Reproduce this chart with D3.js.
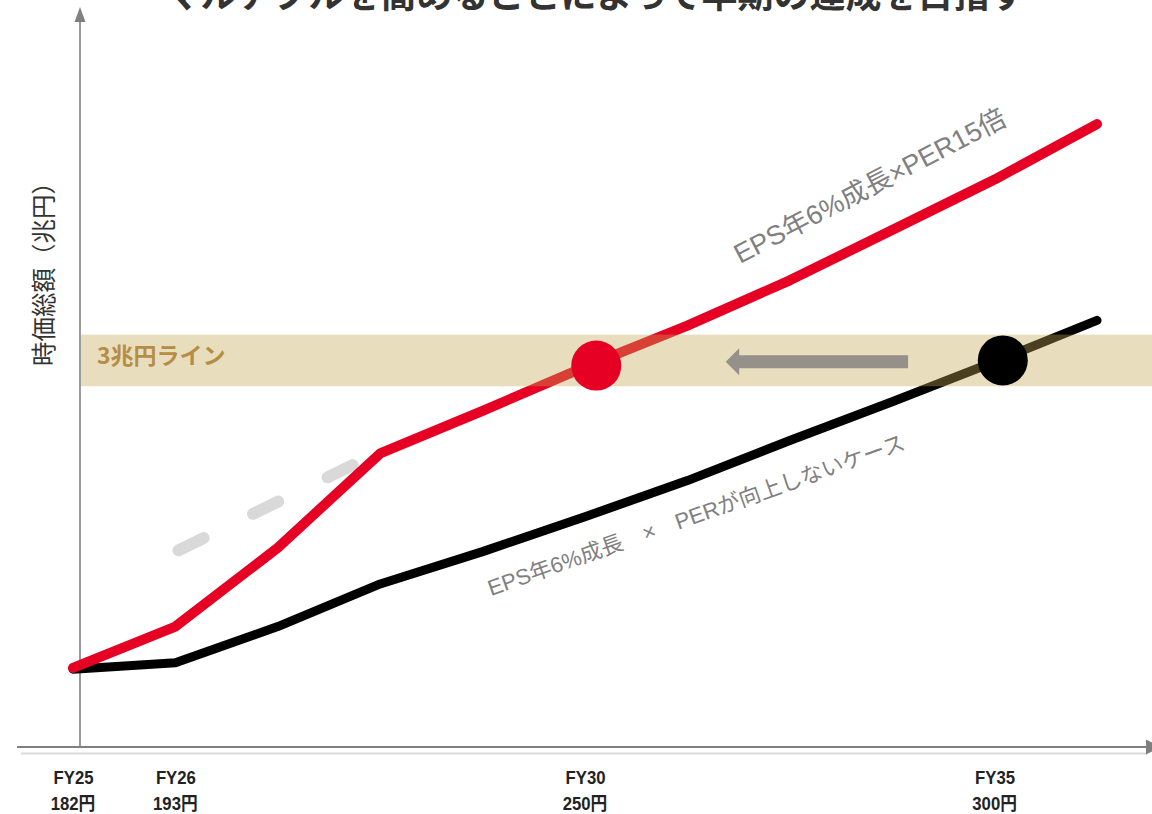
<!DOCTYPE html>
<html>
<head>
<meta charset="utf-8">
<script src="https://cdn.jsdelivr.net/npm/d3@7"></script>
<style>
  body { margin: 0; background: #fff; }
  svg { display: block; }
</style>
</head>
<body>
<svg id="chart" width="1152" height="814"></svg>
<script>
// ---- data -------------------------------------------------------------
const chartTitle = "マルチプルを高めることによって早期の達成を目指す";
const yAxisTitle = "時価総額（兆円）";
const bandLabel = "3兆円ライン";
const reratedLabel = "EPS年6%成長×PER15倍";
const flatLabel = "EPS年6%成長　×　PERが向上しないケース";

// period index 0..10 (FY25 onward), market cap in 兆円
const periods = d3.range(0, 11);
const reratedCap = [0.62, 0.94, 1.55, 2.28, 2.61, 2.95, 3.27, 3.62, 4.01, 4.40, 4.83];
const flatCap    = [0.61, 0.66, 0.94, 1.27, 1.52, 1.79, 2.07, 2.38, 2.68, 2.99, 3.31];

// light dashed guide between FY26 and FY28
const guidePeriods = [1.03, 2.73];
const guideCap = [1.53, 2.19];

// 3兆円 band
const bandLow = 2.8, bandHigh = 3.2;

// points where each path reaches 3兆円
const hitPeriods = [5.11, 9.08];
const hitCap = [2.96, 3.0];
const hitColors = ["#e60023", "#000000"];

// shift arrow (from → to, in periods)
const arrowFrom = 8.155, arrowTo = 6.374, arrowCap = 2.99;

// x tick labels
const tickPeriods = [0, 1, 5, 9];
const tickFY = ["FY25", "FY26", "FY30", "FY35"];
const tickEPS = ["182円", "193円", "250円", "300円"];

// ---- layout -------------------------------------------------------------
const svg = d3.select("#chart");
const x = d3.scaleLinear().domain([0, 10]).range([73, 1097]);
const y = d3.scaleLinear().domain([0, 5.79]).range([748, 0]);

const jp = "'Noto Sans CJK JP', sans-serif";
const latinJp = "'Liberation Sans', 'Noto Sans CJK JP', sans-serif";
const tickFont = "'Liberation Sans', 'Noto Sans CJK JP', sans-serif";

// title (runs off the top edge)
svg.append("text")
  .attr("x", 595).attr("y", 8)
  .attr("text-anchor", "middle")
  .attr("font-family", jp)
  .attr("font-weight", 700)
  .attr("font-size", 36)
  .attr("fill", "#333")
  .text(chartTitle);

// y axis with arrow
svg.append("line")
  .attr("x1", 80).attr("x2", 80)
  .attr("y1", 747).attr("y2", 20)
  .attr("stroke", "#808080").attr("stroke-width", 1.6);
svg.append("path")
  .attr("d", "M74.5,22 L80,7 L85.5,22 Z")
  .attr("fill", "#808080");

svg.append("text")
  .attr("transform", "translate(53,268) rotate(-90)")
  .attr("text-anchor", "middle")
  .attr("font-family", jp)
  .attr("font-size", 24.5)
  .attr("fill", "#333")
  .text(yAxisTitle);

// x axis: dark rule with arrow, light shadow rule underneath
svg.append("line")
  .attr("x1", 21).attr("x2", 1147)
  .attr("y1", 753.5).attr("y2", 753.5)
  .attr("stroke", "#d9d9d9").attr("stroke-width", 2);
svg.append("line")
  .attr("x1", 17).attr("x2", 1148)
  .attr("y1", 747).attr("y2", 747)
  .attr("stroke", "#7f7f7f").attr("stroke-width", 2);
svg.append("path")
  .attr("d", "M1146,739.5 L1161,747 L1146,754.5 Z")
  .attr("fill", "#7f7f7f");

// tick labels (condensed bold)
const xAxis = svg.append("g")
  .attr("transform", "translate(0,768)")
  .call(d3.axisBottom(x).tickValues(tickPeriods).tickSize(0)
    .tickFormat((d, i) => tickFY[i]));
xAxis.select(".domain").remove();
xAxis.selectAll("text")
  .attr("dy", 0).attr("y", 0)
  .attr("transform", "translate(0,16) scale(0.93,1)")
  .attr("font-family", tickFont)
  .attr("font-weight", 700)
  .attr("font-size", 18)
  .attr("fill", "#222");

svg.append("g").selectAll("text")
  .data(tickPeriods)
  .join("text")
  .attr("transform", d => `translate(${x(d)},810) scale(0.93,1)`)
  .attr("text-anchor", "middle")
  .attr("font-family", tickFont)
  .attr("font-weight", 700)
  .attr("font-size", 18)
  .attr("fill", "#222")
  .text((d, i) => tickEPS[i]);

// series lines
const line = d3.line().x(d => x(d[0])).y(d => y(d[1]));

svg.append("path")
  .datum(d3.zip(guidePeriods, guideCap))
  .attr("d", line)
  .attr("fill", "none")
  .attr("stroke", "#d9d9d9")
  .attr("stroke-width", 12)
  .attr("stroke-linecap", "round")
  .attr("stroke-dasharray", "28 55");

svg.append("path")
  .datum(d3.zip(periods, flatCap))
  .attr("d", line)
  .attr("fill", "none")
  .attr("stroke", "#000")
  .attr("stroke-width", 9)
  .attr("stroke-linecap", "round")
  .attr("stroke-linejoin", "round");

svg.append("path")
  .datum(d3.zip(periods, reratedCap))
  .attr("d", line)
  .attr("fill", "none")
  .attr("stroke", "#e60023")
  .attr("stroke-width", 10)
  .attr("stroke-linecap", "round")
  .attr("stroke-linejoin", "round");

// translucent 3兆円 band over the lines
svg.append("rect")
  .attr("x", 81).attr("width", 1152 - 81)
  .attr("y", y(bandHigh)).attr("height", y(bandLow) - y(bandHigh))
  .attr("fill", "rgb(195,168,84)")
  .attr("fill-opacity", 0.38);

svg.append("text")
  .attr("x", 97).attr("y", 364)
  .attr("font-family", jp)
  .attr("font-weight", 700)
  .attr("font-size", 23)
  .attr("fill", "#b68d45")
  .text(bandLabel);

// arrow pointing to the earlier date
{
  const xa = x(arrowFrom), xt = x(arrowTo), yc = y(arrowCap);
  const head = 13.5, shaft = 6.5, wing = 13.5;
  svg.append("path")
    .attr("d", `M${xa},${yc - shaft} L${xt + head},${yc - shaft} L${xt + head},${yc - wing}
                L${xt},${yc} L${xt + head},${yc + wing} L${xt + head},${yc + shaft} L${xa},${yc + shaft} Z`)
    .attr("fill", "#95918a");
}

// markers where each path reaches 3兆円
svg.append("g").selectAll("circle")
  .data(hitPeriods)
  .join("circle")
  .attr("cx", d => x(d))
  .attr("cy", (d, i) => y(hitCap[i]))
  .attr("r", 25)
  .attr("fill", (d, i) => hitColors[i]);

// series annotations
svg.append("text")
  .attr("transform", "translate(740,264) rotate(-27.5)")
  .attr("font-family", latinJp)
  .attr("font-size", 27)
  .attr("fill", "#808080")
  .text(reratedLabel);

svg.append("text")
  .attr("transform", "translate(491,596) rotate(-19.5)")
  .attr("font-family", latinJp)
  .attr("font-size", 22)
  .attr("fill", "#808080")
  .text(flatLabel);
</script>
</body>
</html>
